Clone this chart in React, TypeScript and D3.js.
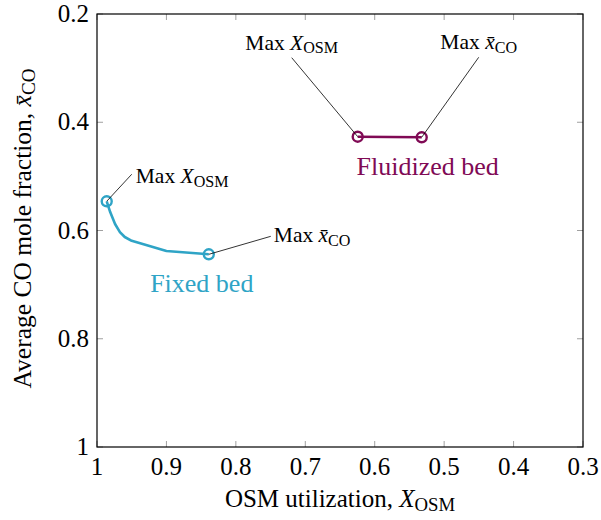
import React from "react";
import * as d3 from "d3";

// values
const xTicks = [1, 0.9, 0.8, 0.7, 0.6, 0.5, 0.4, 0.3];
const yTicks = [0.2, 0.4, 0.6, 0.8, 1];

const fixedX = [0.986, 0.981, 0.974, 0.967, 0.96, 0.95, 0.9, 0.839];
const fixedY = [0.546, 0.566, 0.588, 0.603, 0.612, 0.619, 0.638, 0.644];

const fluidX = [0.6245, 0.5323];
const fluidY = [0.4267, 0.4278];

const CYAN = "#2fa4c6";
const PURPLE = "#800a55";
const FONT = "'Liberation Serif', serif";

const W = 601;
const H = 520;
const margin = { top: 14, right: 18, bottom: 73, left: 97 };

const Sub = ({ main, sub, italic = true, bar = false }: any) => (
  <>
    <tspan fontStyle={italic ? "italic" : "normal"}>{bar ? main + "\u0304" : main}</tspan>
    <tspan fontSize="0.75em" dy="0.22em">{sub}</tspan>
  </>
);

export default function App() {
  const x = d3.scaleLinear().domain([1, 0.3]).range([margin.left, W - margin.right]);
  const y = d3.scaleLinear().domain([0.2, 1]).range([margin.top, H - margin.bottom]);
  const x0 = x.range()[0], x1 = x.range()[1];
  const y0 = y.range()[0], y1 = y.range()[1];

  const fixed = fixedX.map((v, i) => [v, fixedY[i]] as [number, number]);
  const fluid = fluidX.map((v, i) => [v, fluidY[i]] as [number, number]);
  const line = d3
    .line<[number, number]>()
    .x((d) => x(d[0]))
    .y((d) => y(d[1]));

  const fixedMarks = [fixed[0], fixed[fixed.length - 1]];
  const fluidMarks = fluid;

  // annotations: marker, leader-line end offset, text offset, anchor
  const notes = [
    { p: fixed[0], lx: 25, ly: -27, tx: 29, ty: -18, anchor: "start", kind: "X" },
    { p: fixed[fixed.length - 1], lx: 62, ly: -18, tx: 65, ty: -12, anchor: "start", kind: "x" },
    { p: fluid[0], lx: -66, ly: -79, tx: -66, ty: -87, anchor: "middle", kind: "X" },
    { p: fluid[1], lx: 57, ly: -80, tx: 57, ty: -88, anchor: "middle", kind: "x" },
  ];

  const tickLen = 6;
  const tickColor = "#a0a0a0";

  return (
    <svg width={W} height={H} style={{ position: "absolute", left: 0, top: 0 }} fontFamily={FONT}>
      <rect width={W} height={H} fill="#fff" />
      {/* ticks */}
      {xTicks.map((t) => (
        <g key={"xt" + t} stroke={tickColor} strokeWidth={1}>
          <line x1={x(t)} x2={x(t)} y1={y1} y2={y1 - tickLen} />
          <line x1={x(t)} x2={x(t)} y1={y0} y2={y0 + tickLen} />
        </g>
      ))}
      {yTicks.map((t) => (
        <g key={"yt" + t} stroke={tickColor} strokeWidth={1}>
          <line x1={x0} x2={x0 + tickLen} y1={y(t)} y2={y(t)} />
          <line x1={x1} x2={x1 - tickLen} y1={y(t)} y2={y(t)} />
        </g>
      ))}
      <rect x={x0} y={y0} width={x1 - x0} height={y1 - y0} fill="none" stroke="#000" strokeWidth={1.2} />

      {/* tick labels */}
      {xTicks.map((t) => (
        <text key={"xl" + t} x={x(t)} y={y1 + 28} textAnchor="middle" fontSize={25}>
          {d3.format("")(t)}
        </text>
      ))}
      {yTicks.map((t) => (
        <text key={"yl" + t} x={x0 - 8} y={y(t) + 8} textAnchor="end" fontSize={25}>
          {d3.format("")(t)}
        </text>
      ))}

      {/* axis titles */}
      <text x={(x0 + x1) / 2} y={y1 + 60} textAnchor="middle" fontSize={25}>
        OSM utilization, <Sub main="X" sub="OSM" />
      </text>
      <text
        transform={`translate(31,${(y0 + y1) / 2 - 2}) rotate(-90)`}
        textAnchor="middle"
        fontSize={25.5}
      >
        Average CO mole fraction, <Sub main="x" sub="CO" bar />
      </text>

      {/* series */}
      <path d={line(fixed) || ""} fill="none" stroke={CYAN} strokeWidth={2.6} strokeLinejoin="round" />
      <path d={line(fluid) || ""} fill="none" stroke={PURPLE} strokeWidth={2.6} />
      {fixedMarks.map((d, i) => (
        <circle key={"fm" + i} cx={x(d[0])} cy={y(d[1])} r={5} fill="none" stroke={CYAN} strokeWidth={2.4} />
      ))}
      {fluidMarks.map((d, i) => (
        <circle key={"um" + i} cx={x(d[0])} cy={y(d[1])} r={5} fill="none" stroke={PURPLE} strokeWidth={2.4} />
      ))}

      {/* annotations */}
      {notes.map((n, i) => {
        const px = x(n.p[0]);
        const py = y(n.p[1]);
        return (
          <g key={"n" + i}>
            <line x1={px} y1={py} x2={px + n.lx} y2={py + n.ly} stroke="#000" strokeWidth={0.8} />
            <text x={px + n.tx} y={py + n.ty} fontSize={21.5} textAnchor={n.anchor}>
              Max{" "}
              {n.kind === "X" ? <Sub main="X" sub="OSM" /> : <Sub main="x" sub="CO" bar />}
            </text>
          </g>
        );
      })}

      {/* series labels */}
      <text x={x(fixedX[fixedX.length - 1]) - 7} y={y(fixedY[fixedY.length - 1]) + 38} textAnchor="middle" fontSize={26} fill={CYAN}>
        Fixed bed
      </text>
      <text x={(x(fluidX[0]) + x(fluidX[1])) / 2 + 38} y={y(fluidY[1]) + 38} textAnchor="middle" fontSize={26} fill={PURPLE}>
        Fluidized bed
      </text>
    </svg>
  );
}
